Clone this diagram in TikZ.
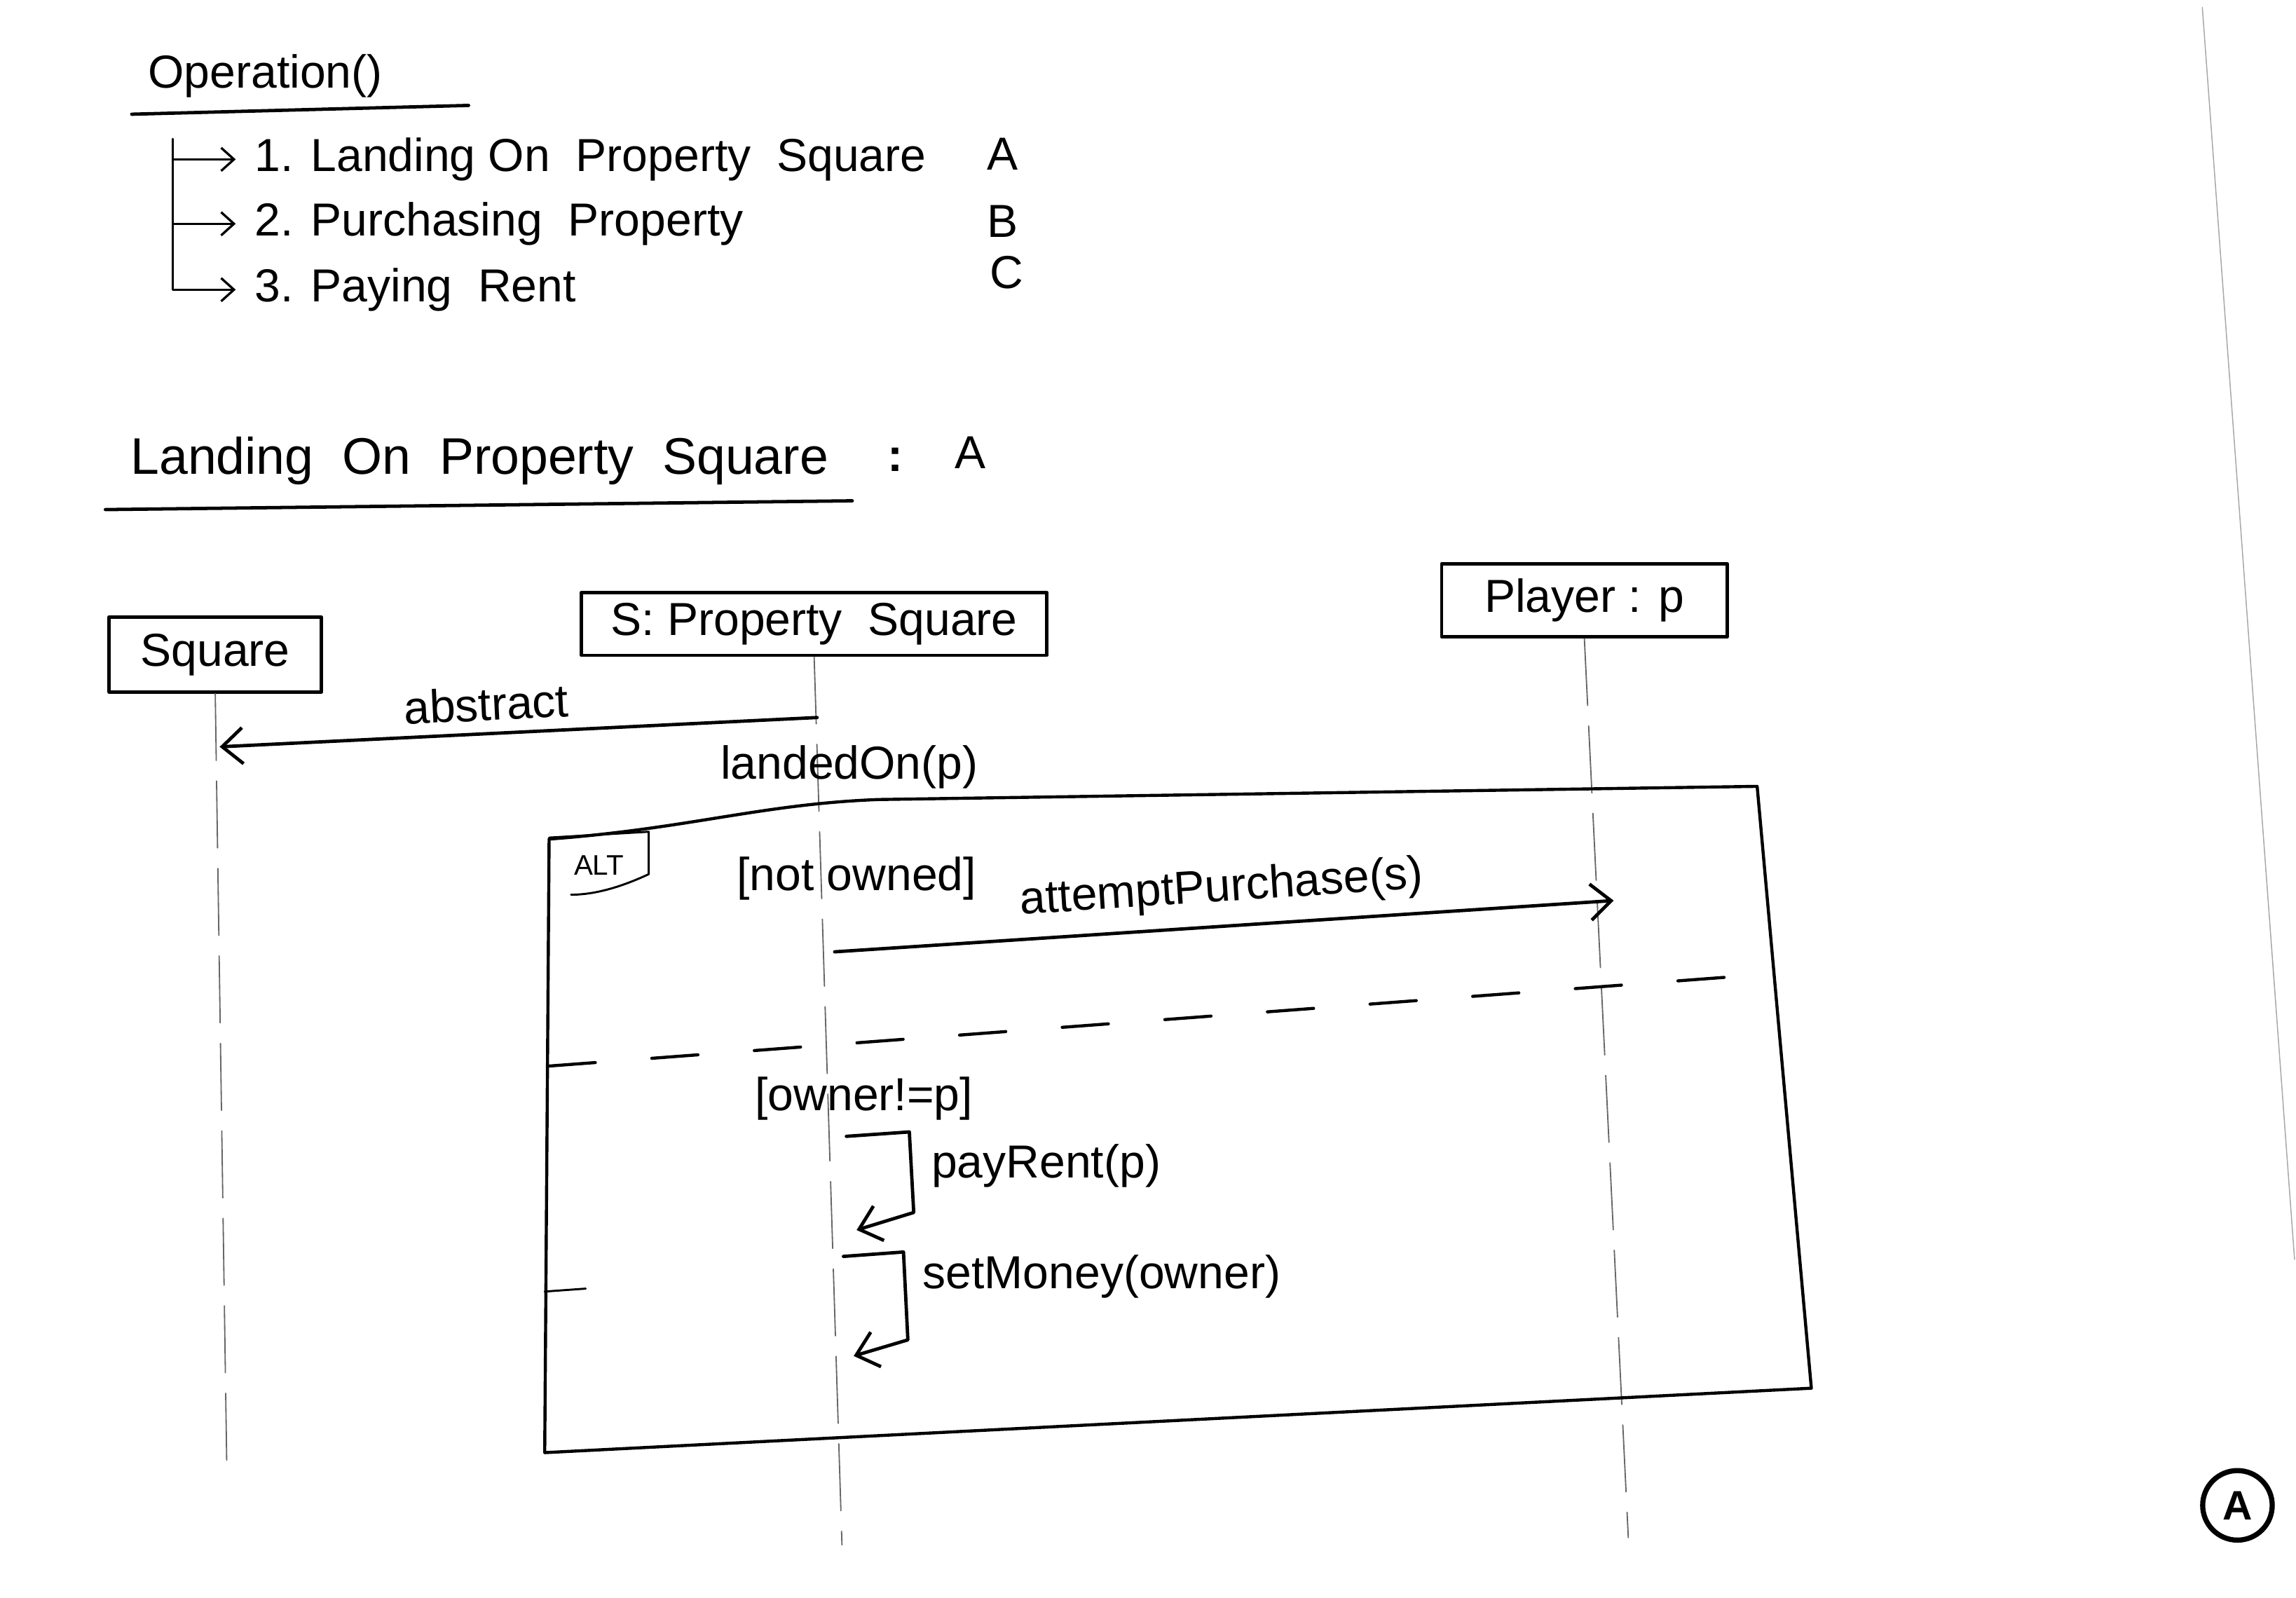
\documentclass[tikz,border=0pt]{standalone}
\usepackage{fontspec}
\setmainfont{Liberation Sans}
\usetikzlibrary{arrows.meta,positioning}
\newcommand{\handfont}{\fontsize{18}{22}\selectfont}
\tikzset{
	obj/.style={draw, line width=1.3pt, inner sep=2pt},
	life/.style={black!60, line width=0.5pt, dash pattern=on 26pt off 8pt},
	msg/.style={->, line width=1.3pt},
	frm/.style={line width=1.2pt},
}
\begin{document}
\begin{tikzpicture}[x=0.02cm, y=-0.02cm, >={Straight Barb[length=8pt,width=14pt]}, font=\handfont, line join=round, line cap=round]
	\useasboundingbox (0,0) rectangle (1568,1091);
	% page edge
	\draw[black!35, line width=0.4pt] (1504,5) -- (1567,860);
	% list of operations
	\node[anchor=base west] (op) at (95,60) {Operation()};
	\draw[line width=1.3pt] (90,78) -- (320,72);
	\coordinate (br) at (118,95);
	\node[anchor=base west] (s1) at (168,117) {1. Landing On \ Property \ Square};
	\node[anchor=base west] (s2) at (168,161) {2. Purchasing \ Property};
	\node[anchor=base west] (s3) at (168,206) {3. Paying \ Rent};
	\node[anchor=base west] (la) at (668,116) {A};
	\node[anchor=base west] (lb) at (668,162) {B};
	\node[anchor=base west] (lc) at (670,197) {C};
	\draw[line width=0.9pt, ->, >={Straight Barb[length=5pt,width=9pt]}] (br) |- ([xshift=-4pt]s1.west);
	\draw[line width=0.9pt, ->, >={Straight Barb[length=5pt,width=9pt]}] (br) |- ([xshift=-4pt]s2.west);
	\draw[line width=0.9pt, ->, >={Straight Barb[length=5pt,width=9pt]}] (br) |- ([xshift=-4pt]s3.west);
	% title of diagram A
	\node[anchor=base west, font=\fontsize{20}{24}\selectfont] (ta) at (83,324) {Landing \ On \ Property \ Square};
	\node[anchor=base west] (tc) at (600,322) {\textbf{:}};
	\node[anchor=base west] (tl) at (646,320) {A};
	\draw[line width=1.3pt] (72,348) -- (582,342);
	% objects
	\node[obj, minimum width=2.9cm, minimum height=1.02cm] (sq) at (147,447) {Square};
	\node[obj, minimum width=6.36cm, minimum height=0.86cm] (ps) at (556,426) {S: Property \ Square};
	\node[obj, minimum width=3.9cm, minimum height=1cm] (pl) at (1082,410) {Player : p};
	\coordinate (sq-end) at (155,1010);
	\coordinate (ps-end) at (575,1055);
	\coordinate (pl-end) at (1112,1050);
	\draw[life] (sq.south) -- (sq-end);
	\draw[life] (ps.south) -- (ps-end);
	\draw[life] (pl.south) -- (pl-end);
	% messages
	\coordinate (m1a) at (150,510);
	\coordinate (m1b) at (558,490);
	\draw[<-, line width=1.3pt] (m1a) -- (m1b) node[midway, above=1pt, sloped, xshift=-12pt] (abs) {abstract};
	\node (ldo) at (580,524) {landedOn(p)};
	% alt frame
	\draw[frm] (375,573) .. controls (470,566) and (520,549) .. (600,546) -- (1200,537) -- (1237,948) -- (372,992) -- cycle;
	\draw[line width=0.8pt] (375,572) -- (443,568) -- (443,597) .. controls (430,603) and (410,611) .. (390,611);
	\node[font=\fontsize{11}{13}\selectfont] (alt) at (409,591) {ALT};
	\node (g1) at (585,600) {[not owned]};
	\coordinate (m2a) at (570,650);
	\coordinate (m2b) at (1102,615);
	\draw[msg] (m2a) -- (m2b) node[midway, above=2pt, sloped] (ap) {attemptPurchase(s)};
	\draw[frm, dash pattern=on 18pt off 22pt] (375,728) -- (1210,665);
	\node (g2) at (590,750) {[owner!=p]};
	% self calls
	\draw[msg] (578,776) -- (621,773) -- (624,828) -- (585,840);
	\node[anchor=west] (pr) at (630,796) {payRent(p)};
	\draw[msg] (576,858) -- (617,855) -- (620,915) -- (583,926);
	\node[anchor=west] (sm) at (624,872) {setMoney(owner)};
	\draw[line width=0.8pt] (372,882) -- (400,880);
	% page mark
	\node[draw, circle, line width=2pt, minimum size=0.95cm, inner sep=0pt, font=\fontsize{16}{18}\selectfont\bfseries] (pg) at (1528,1028) {A};
\end{tikzpicture}
\end{document}
